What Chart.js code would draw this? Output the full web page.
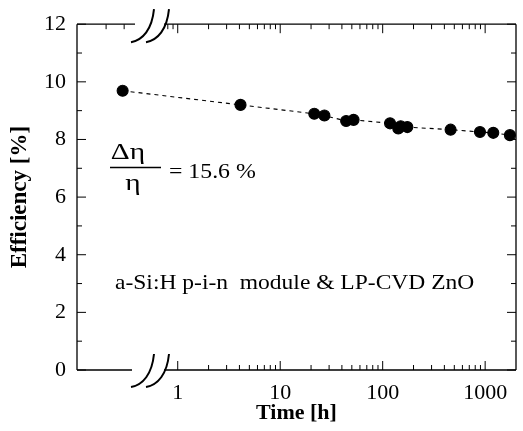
<!DOCTYPE html>
<html>
<head>
<meta charset="utf-8">
<script src="https://cdn.jsdelivr.net/npm/chart.js@4/dist/chart.umd.min.js"></script>
<style>
  html, body { margin: 0; padding: 0; background: #fff; }
  #wrap { width: 523px; height: 431px; }
</style>
</head>
<body>
<div id="wrap"><canvas id="effChart"></canvas></div>
<script>
// light soaking data (first point is t = 0, drawn left of the axis break)
const hours      = [0.29, 4.1, 21.5, 27, 44, 52, 118, 142, 150, 174, 460, 890, 1200, 1745];
const efficiency = [9.69, 9.2, 8.89, 8.83, 8.64, 8.68, 8.56, 8.38, 8.46, 8.43, 8.34, 8.26, 8.23, 8.15];
const xLabels    = [1, 10, 100, 1000];
const yLabels    = [0, 2, 4, 6, 8, 10, 12];

const serif = '"Liberation Serif", "Times New Roman", serif';

const points = hours.map((h, i) => ({ x: h, y: efficiency[i] }));

// text a bit wider than the font, like the scanned original
function wideText(ctx, txt, x, y, sx, align) {
  ctx.save();
  ctx.translate(x, y);
  ctx.scale(sx, 1);
  ctx.textAlign = align;
  ctx.fillText(txt, 0, 0);
  ctx.restore();
}

// frame, inward ticks, axis break marks and the two text notes
const decor = {
  id: 'decor',
  afterDatasetsDraw(c) {
    const ctx = c.ctx;
    const a = c.chartArea;
    const xs = c.scales.x, ys = c.scales.y;
    const gapL = 134, gapR = 164;
    ctx.save();
    ctx.strokeStyle = '#000';
    ctx.lineWidth = 1.3;
    ctx.beginPath();
    ctx.moveTo(a.left, a.top); ctx.lineTo(a.left, a.bottom);
    ctx.moveTo(a.right, a.top); ctx.lineTo(a.right, a.bottom);
    ctx.moveTo(a.left, a.top); ctx.lineTo(gapL + 1, a.top);
    ctx.moveTo(gapR, a.top); ctx.lineTo(a.right, a.top);
    ctx.moveTo(a.left, a.bottom); ctx.lineTo(gapL - 2, a.bottom);
    ctx.moveTo(gapR, a.bottom); ctx.lineTo(a.right, a.bottom);
    ctx.stroke();

    // y ticks, both sides
    ctx.lineWidth = 1;
    ctx.beginPath();
    for (let v = 0; v <= 12; v++) {
      const y = ys.getPixelForValue(v);
      const len = v % 2 === 0 ? 9 : 5;
      ctx.moveTo(a.left, y); ctx.lineTo(a.left + len, y);
      ctx.moveTo(a.right, y); ctx.lineTo(a.right - len, y);
    }
    // x ticks (log), top and bottom
    for (let d = -1; d <= 3; d++) {
      for (let k = 1; k <= 9; k++) {
        const v = k * Math.pow(10, d);
        const x = xs.getPixelForValue(v);
        if (x < a.left + 2 || x > a.right - 2) continue;
        if (x > gapL - 4 && x < gapR + 2) continue;
        const len = k === 1 ? 9 : 5;
        ctx.moveTo(x, a.top); ctx.lineTo(x, a.top + len);
        if (v >= 1) { ctx.moveTo(x, a.bottom); ctx.lineTo(x, a.bottom - len); }
      }
    }
    ctx.stroke();

    // break marks
    ctx.lineWidth = 2;
    const brk = (x0, yc) => {
      ctx.beginPath();
      ctx.moveTo(x0 - 2, yc + 15);
      ctx.bezierCurveTo(x0 + 10, yc + 13, x0 + 19, yc + 2, x0 + 21, yc - 18);
      ctx.stroke();
    };
    [a.top + 3, a.bottom + 2].forEach(yc => {
      brk(gapL - 1, yc);
      brk(gapL + 14, yc);
    });

    // delta eta / eta = 15.6 %
    ctx.fillStyle = '#000';
    ctx.textBaseline = 'alphabetic';
    ctx.font = '23px ' + serif;
    wideText(ctx, '\u0394\u03b7', 128, 159, 1.28, 'center');
    wideText(ctx, '\u03b7', 133, 190, 1.28, 'center');
    ctx.lineWidth = 1.6;
    ctx.beginPath();
    ctx.moveTo(110, 167.5); ctx.lineTo(161, 167.5);
    ctx.stroke();
    ctx.font = '20px ' + serif;
    wideText(ctx, '= 15.6 %', 169, 178, 1.19, 'left');

    ctx.font = '21px ' + serif;
    wideText(ctx, 'a-Si:H p-i-n  module & LP-CVD ZnO', 115, 289, 1.12, 'left');
    ctx.restore();
  }
};

new Chart(document.getElementById('effChart').getContext('2d'), {
  type: 'scatter',
  data: {
    datasets: [{
      data: points,
      showLine: true,
      borderColor: '#000',
      borderWidth: 1.1,
      borderDash: [4, 4],
      pointRadius: 5.5,
      pointHoverRadius: 5.5,
      pointBackgroundColor: '#000',
      pointBorderColor: '#000',
      clip: false
    }]
  },
  options: {
    responsive: true,
    maintainAspectRatio: false,
    animation: false,
    layout: { padding: { left: 0, top: 19, right: 7, bottom: 0 } },
    plugins: { legend: { display: false }, tooltip: { enabled: false } },
    scales: {
      x: {
        type: 'logarithmic',
        min: 0.104,
        max: 2000,
        grid: { display: false, drawTicks: false },
        border: { display: false },
        afterFit: s => { s.height = 61; },
        afterBuildTicks: s => { s.ticks = xLabels.map(v => ({ value: v })); },
        ticks: {
          autoSkip: false,
          maxRotation: 0,
          padding: 10,
          color: '#000',
          font: { family: serif, size: 22 },
          callback: v => String(v)
        },
        title: {
          display: true,
          text: 'Time [h]',
          color: '#000',
          padding: { top: 0, bottom: 4 },
          font: { family: serif, size: 22, weight: 'bold' }
        }
      },
      y: {
        min: 0,
        max: 12,
        grid: { display: false, drawTicks: false },
        border: { display: false },
        afterFit: s => { s.width = 77; },
        afterBuildTicks: s => { s.ticks = yLabels.map(v => ({ value: v })); },
        ticks: {
          padding: 11,
          color: '#000',
          font: { family: serif, size: 22 }
        },
        title: {
          display: true,
          text: 'Efficiency [%]',
          color: '#000',
          padding: { top: 6, bottom: 0 },
          font: { family: serif, size: 23, weight: 'bold' }
        }
      }
    }
  },
  plugins: [decor]
});
</script>
</body>
</html>
